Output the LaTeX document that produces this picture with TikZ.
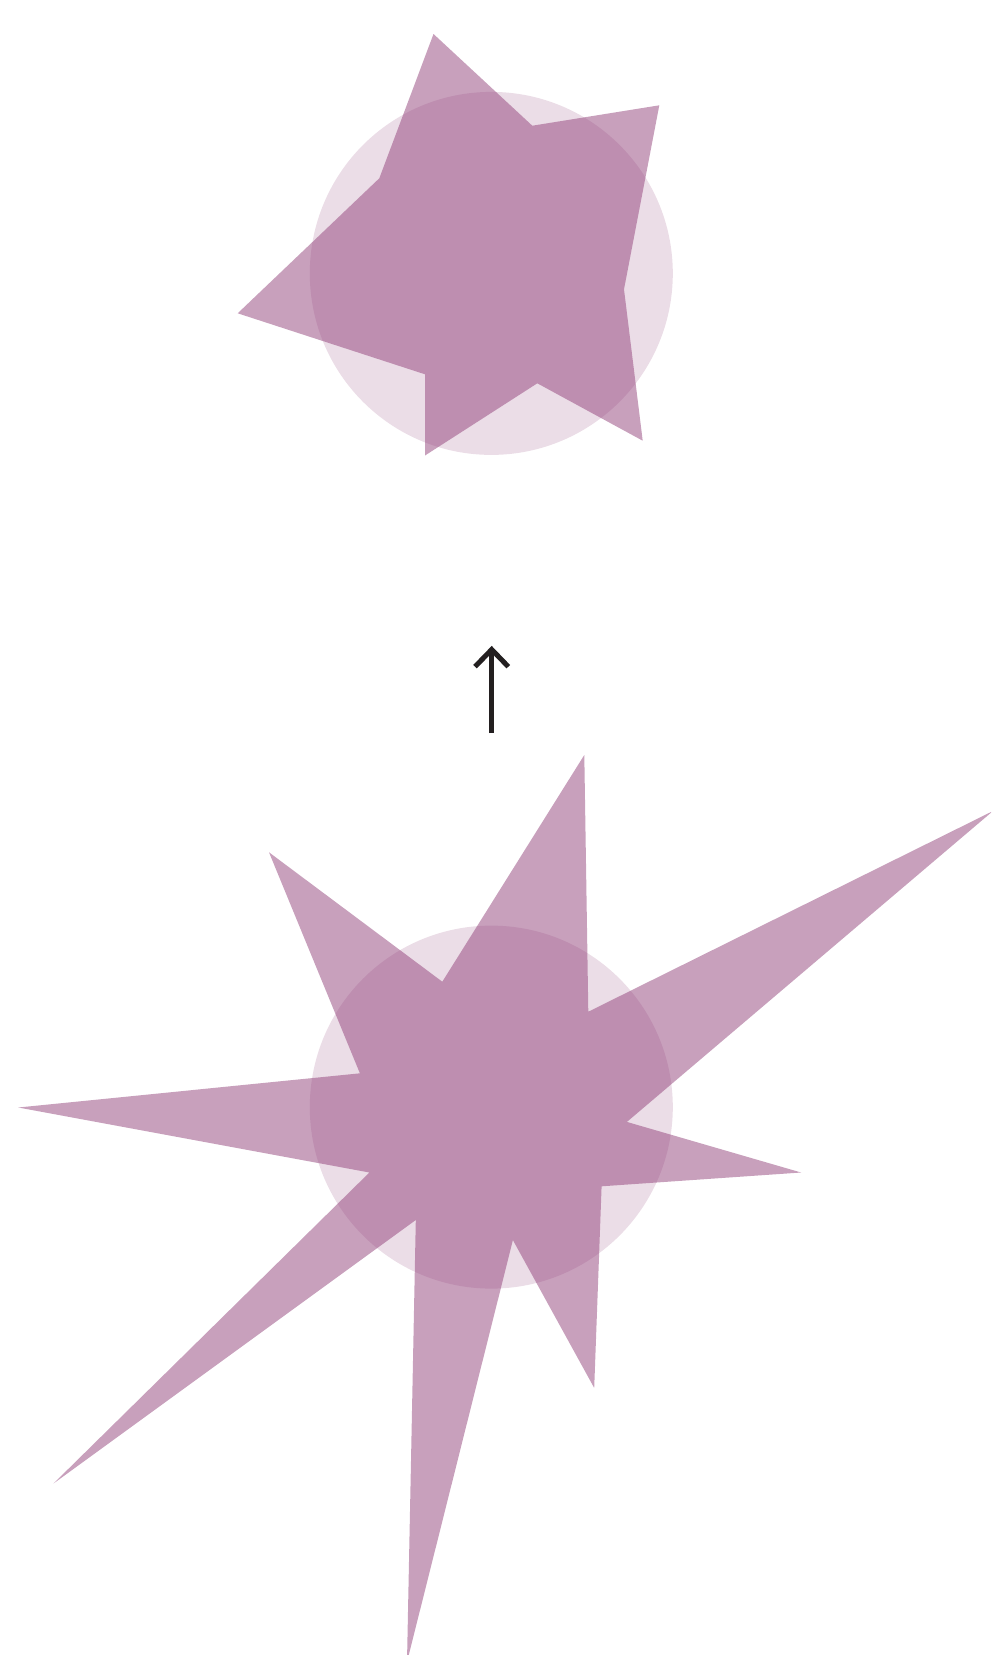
\documentclass[tikz,border=0pt]{standalone}
\usetikzlibrary{arrows.meta}
\definecolor{plum}{RGB}{145,65,121}
\definecolor{ink}{RGB}{35,31,32}
\begin{document}
\begin{tikzpicture}[x=1pt,y=-1pt,
  disc/.style={fill=plum,fill opacity=0.18},
  starshape/.style={fill=plum,fill opacity=0.5},
  arrowline/.style={draw=ink,line width=5pt}]
\useasboundingbox (0,0) rectangle (991,1655);
\clip (0,0) rectangle (991,1655);
% top figure
\fill[disc] (491.3,273.4) circle (181.5);
\fill[starshape] (433.5,34) -- (532.3,125.7) -- (659.3,105.3) -- (624,289.3) -- (642.7,440.7)
  -- (537.3,383.3) -- (425,455.5) -- (425,374.3) -- (237.7,313.3) -- (379.3,178.3) -- cycle;
% arrow
\coordinate (abot) at (491.7,733);
\coordinate (atip) at (491.7,651);
\coordinate (al) at (475,666.7);
\coordinate (ar) at (508.3,666.7);
\draw[arrowline] (abot) -- (atip);
\draw[arrowline,miter limit=10] (al) -- (491.7,649.5) -- (ar);
% bottom figure
\fill[disc] (491.3,1107.1) circle (181.5);
\fill[starshape] (584.3,755) -- (588.3,1011.7) -- (993,811) -- (626.9,1121.9) -- (801.1,1172.5)
  -- (601.6,1186.3) -- (594.2,1387.9) -- (512.9,1240.1) -- (407,1662) -- (415.8,1220.0)
  -- (53.5,1483.5) -- (369.4,1172.5) -- (18.3,1107.5) -- (359.9,1073.3) -- (269,852.3)
  -- (442.3,981.7) -- cycle;
\end{tikzpicture}
\end{document}
